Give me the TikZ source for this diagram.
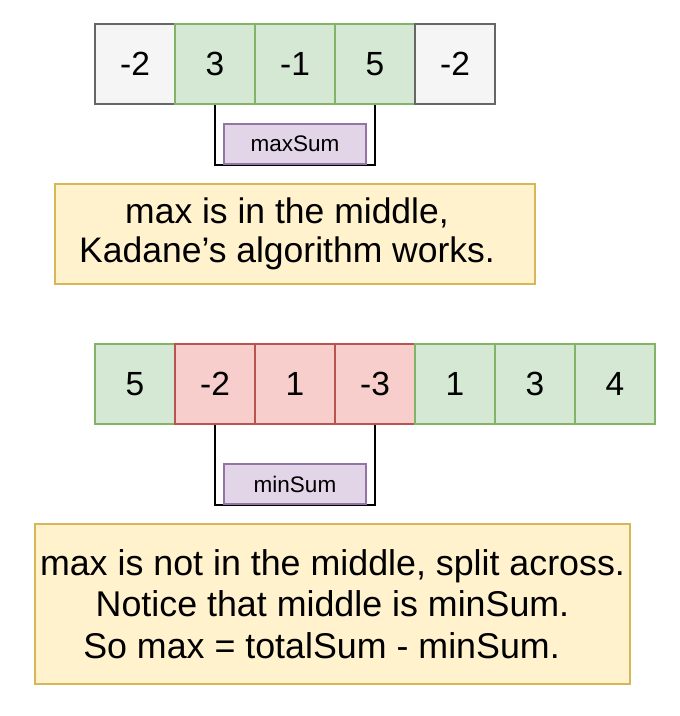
\documentclass[tikz,border=0pt]{standalone}
\usepackage{fontspec}
\setmainfont{Liberation Sans}
\definecolor{grayfill}{HTML}{F5F5F5}
\definecolor{graystroke}{HTML}{666666}
\definecolor{greenfill}{HTML}{D5E8D4}
\definecolor{greenstroke}{HTML}{82B366}
\definecolor{redfill}{HTML}{F8CECC}
\definecolor{redstroke}{HTML}{B85450}
\definecolor{purplefill}{HTML}{E1D5E7}
\definecolor{purplestroke}{HTML}{9673A6}
\definecolor{yellowfill}{HTML}{FFF2CC}
\definecolor{yellowstroke}{HTML}{D6B656}
\begin{document}
\begin{tikzpicture}[x=1pt,y=-1pt,
  cell/.style={draw, line width=2pt, minimum width=80pt, minimum height=80pt, inner sep=0pt, font=\fontsize{33.5}{38}\selectfont},
  graycell/.style={cell, fill=grayfill, draw=graystroke},
  greencell/.style={cell, fill=greenfill, draw=greenstroke},
  redcell/.style={cell, fill=redfill, draw=redstroke},
  sumbox/.style={draw=purplestroke, fill=purplefill, line width=2pt, minimum width=142pt, minimum height=40pt, inner sep=0pt, font=\fontsize{22.5}{26}\selectfont},
  notebox/.style={draw=yellowstroke, fill=yellowfill, line width=2pt, inner sep=0pt, align=center},
  bracket/.style={draw=black, line width=2pt}
]
\useasboundingbox (0,0) rectangle (680,716);
% top row
\node[graycell]  (t1) at (135,64) {-2};
\node[greencell] (t2) at (215,64) {3};
\node[greencell] (t3) at (295,64) {-1};
\node[greencell] (t4) at (375,64) {5};
\node[graycell]  (t5) at (455,64) {-2};
\draw[bracket] (t2.south) -- ++(0,60) coordinate (tb) -| (t4.south);
\node[sumbox] (maxs) at (295,144) {maxSum};
\node[notebox, minimum width=480pt, minimum height=100pt, font=\fontsize{35.5}{39}\selectfont] (n1) at (295,234)
  {max is in the middle,\hspace*{16pt}\\Kadane’s algorithm works.\hspace*{16pt}};
% bottom row
\node[greencell] (b1) at (135,384) {5};
\node[redcell]   (b2) at (215,384) {-2};
\node[redcell]   (b3) at (295,384) {1};
\node[redcell]   (b4) at (375,384) {-3};
\node[greencell] (b5) at (455,384) {1};
\node[greencell] (b6) at (535,384) {3};
\node[greencell] (b7) at (615,384) {4};
\draw[bracket] (b2.south) -- ++(0,80) coordinate (bb) -| (b4.south);
\node[sumbox] (mins) at (295,484) {minSum};
\node[notebox, minimum width=595pt, minimum height=160pt, font=\fontsize{35.8}{41.7}\selectfont] (n2) at (332.5,604)
  {max is not in the middle, split across.\\Notice that middle is minSum.\hspace*{14pt}\\So max = totalSum - minSum.\hspace*{22pt}};
\end{tikzpicture}
\end{document}
